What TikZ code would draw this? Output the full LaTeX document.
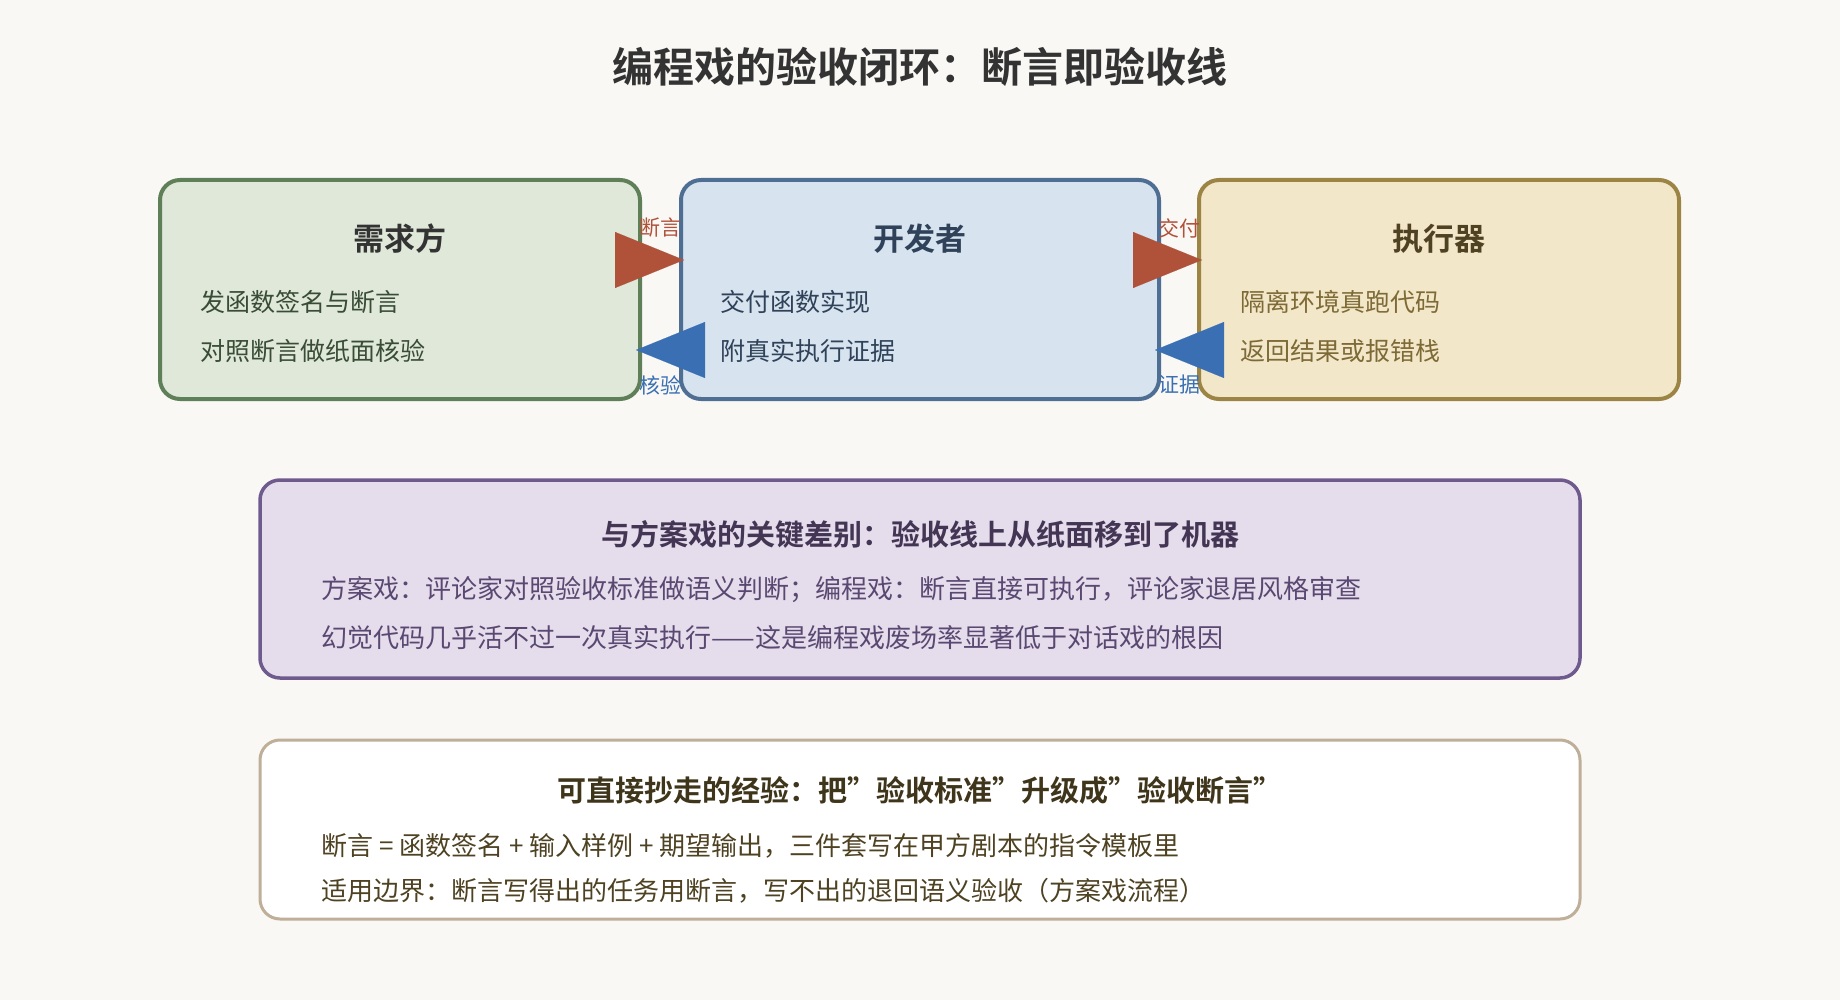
\documentclass[tikz,border=0pt]{standalone}
\usepackage{fontspec}
\setmainfont{Noto Sans CJK SC}[BoldFont={Noto Sans CJK SC Bold}]
\usetikzlibrary{arrows.meta}
\definecolor{bgcol}{HTML}{F9F8F5}
\definecolor{reqfill}{HTML}{DFE8D9}\definecolor{reqline}{HTML}{5F7F58}
\definecolor{devfill}{HTML}{D7E3EE}\definecolor{devline}{HTML}{4F6E94}
\definecolor{runfill}{HTML}{F3E7C9}\definecolor{runline}{HTML}{9C8444}
\definecolor{difffill}{HTML}{E5DCEC}\definecolor{diffline}{HTML}{6F5A8E}
\definecolor{tipline}{HTML}{BFAE98}
\definecolor{fwdcol}{HTML}{B0513A}\definecolor{backcol}{HTML}{3A6FB3}
\newcommand\dq{\symbol{34}}
\tikzset{
  box/.style={draw, line width=4pt, rounded corners=20pt, inner sep=0pt},
  head/.style={font=\bfseries\fontsize{31}{36}\selectfont, text=#1},
  item/.style={font=\fontsize{25}{30}\selectfont, anchor=west, text=#1},
  fwd/.style={fwdcol, line width=0.1pt, -{Triangle[length=69pt,width=56pt]}},
  back/.style={backcol, line width=0.1pt, -{Triangle[length=69pt,width=56pt]}},
  tag/.style={font=\fontsize{21}{24}\selectfont, text=#1},
}
\begin{document}
\begin{tikzpicture}[x=1pt,y=-1pt]
  \fill[bgcol] (0,0) rectangle (1840,1000);
  \useasboundingbox (0,0) rectangle (1840,1000);
  % Title
  \node[font=\bfseries\fontsize{41}{46}\selectfont, text=black!80] (title) at (920,67) {编程戏的验收闭环：断言即验收线};
  % Node: Requester
  \node[box, draw=reqline, fill=reqfill, minimum width=480pt, minimum height=219pt] (req) at (400,289.5) {};
  \node[head=black!80] (reqh) at (400,239) {需求方};
  \node[item=reqline!60!black] (req1) at (197,302) {发函数签名与断言};
  \node[item=reqline!60!black] (req2) at (197,351) {对照断言做纸面核验};
  % Node: Developer
  \node[box, draw=devline, fill=devfill, minimum width=478pt, minimum height=219pt] (dev) at (920,289.5) {};
  \node[head=devline!60!black] (devh) at (920,239) {开发者};
  \node[item=devline!60!black] (dev1) at (717,302) {交付函数实现};
  \node[item=devline!60!black] (dev2) at (717,351) {附真实执行证据};
  % Node: Runner
  \node[box, draw=runline, fill=runfill, minimum width=480pt, minimum height=219pt] (run) at (1439,289.5) {};
  \node[head=runline!50!black] (runh) at (1439,239) {执行器};
  \node[item=runline!80!black] (run1) at (1237,302) {隔离环境真跑代码};
  \node[item=runline!80!black] (run2) at (1237,351) {返回结果或报错栈};
  % Edges
  \draw[fwd, shorten <=-23pt, shorten >=-5pt] ([yshift=29.5pt]req.east) -- ([yshift=29.5pt]dev.west);
  \draw[back, shorten <=-22pt, shorten >=-6pt] ([yshift=-60.5pt]dev.west) -- ([yshift=-60.5pt]req.east);
  \draw[fwd, shorten <=-23pt, shorten >=-5pt] ([yshift=29.5pt]dev.east) -- ([yshift=29.5pt]run.west);
  \draw[back, shorten <=-22pt, shorten >=-6pt] ([yshift=-60.5pt]run.west) -- ([yshift=-60.5pt]dev.east);
  \node[tag=fwdcol] (t1) at (660,228) {断言};
  \node[tag=backcol] (t2) at (660,385) {核验};
  \node[tag=fwdcol] (t3) at (1179,228) {交付};
  \node[tag=backcol] (t4) at (1179,385) {证据};
  % Node: Difference
  \node[box, draw=diffline, fill=difffill, line width=3.5pt, minimum width=1320pt, minimum height=198pt] (diff) at (920,579) {};
  \node[font=\bfseries\fontsize{29}{32}\selectfont, text=diffline!60!black] (diffh) at (920,534) {与方案戏的关键差别：验收线上从纸面移到了机器};
  \node[item=diffline!80!black, font=\fontsize{26}{30}\selectfont] (diff1) at (318,590) {方案戏：评论家对照验收标准做语义判断；编程戏：断言直接可执行，评论家退居风格审查};
  \node[item=diffline!80!black, font=\fontsize{26}{30}\selectfont] (diff2) at (318,638) {幻觉代码几乎活不过一次真实执行——这是编程戏废场率显著低于对话戏的根因};
  % Node: Tip
  \node[box, draw=tipline, fill=white, line width=3pt, minimum width=1320pt, minimum height=179pt] (tip) at (920,829.5) {};
  \node[font=\bfseries\fontsize{29}{32}\selectfont, text=runline!40!black] (tiph) at (920,790) {可直接抄走的经验：把\dq 验收标准\dq 升级成\dq 验收断言\dq};
  \node[item=runline!50!black, font=\fontsize{26}{30}\selectfont] (tip1) at (318,846) {断言 = 函数签名 + 输入样例 + 期望输出，三件套写在甲方剧本的指令模板里};
  \node[item=runline!50!black, font=\fontsize{26}{30}\selectfont] (tip2) at (318,891) {适用边界：断言写得出的任务用断言，写不出的退回语义验收（方案戏流程）};
\end{tikzpicture}
\end{document}
